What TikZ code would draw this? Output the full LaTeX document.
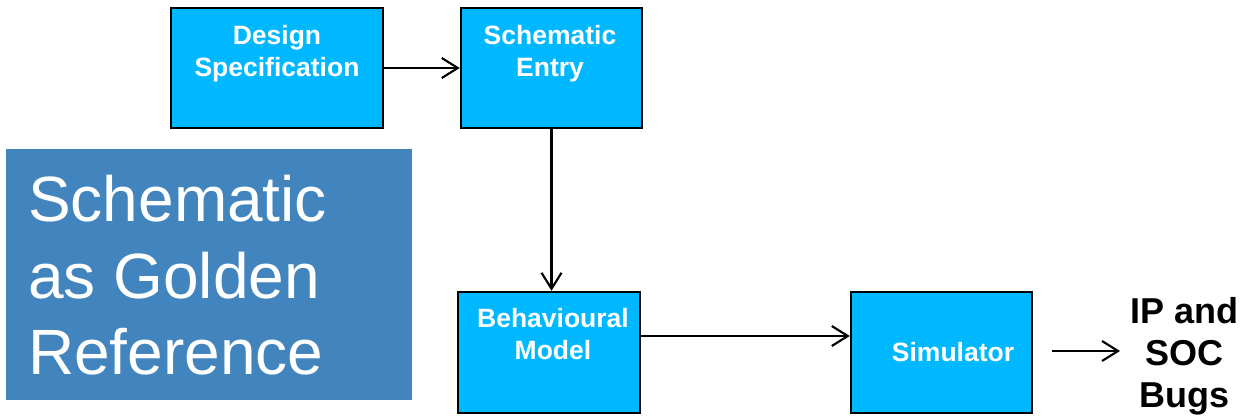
\documentclass[tikz,border=0pt]{standalone}
\usepackage{fontspec}
\setmainfont{Liberation Sans}
\usetikzlibrary{arrows.meta,calc}
\definecolor{boxfill}{RGB}{0,184,255}
\definecolor{panelblue}{RGB}{66,133,190}
\tikzset{
  box/.style={draw=black, line width=2.5pt, fill=boxfill, inner sep=0pt},
  boxtext/.style={text=white, font=\bfseries\fontsize{26.5}{32}\selectfont, align=center, inner sep=0pt},
  conn/.style={line width=2.1pt, -{Straight Barb[length=16pt,width=20pt,line width=2.1pt]}},
}
\begin{document}
\begin{tikzpicture}[x=1pt,y=-1pt]
\useasboundingbox (0,0) rectangle (1249,418);
% panel
\node[fill=panelblue, minimum width=406pt, minimum height=251pt, inner sep=0pt] (panel) at (209,274.5) {};
\node[anchor=north west, inner sep=0pt, text=white, align=left,
      font=\fontsize{64}{76.7}\selectfont] (paneltext) at (28,175) {Schematic\\as Golden\\Reference};
% boxes
\node[box, minimum width=212pt, minimum height=120pt] (ds) at (277,68) {};
\node[box, minimum width=181pt, minimum height=120pt] (se) at (551.5,68) {};
\node[box, minimum width=182pt, minimum height=121pt] (bm) at (549,352.5) {};
\node[box, minimum width=181pt, minimum height=121pt] (sim) at (941.5,352.5) {};
% box texts
\node[boxtext, anchor=north] (dst) at (277,25) {Design\\Specification};
\node[boxtext, anchor=north] (set) at (550,25) {Schematic\\Entry};
\node[boxtext, anchor=north] (bmt) at (553,308) {Behavioural\\Model};
\node[boxtext, anchor=north] (simt) at (953,342.5) {Simulator};
% output text
\node[anchor=north, inner sep=0pt, align=center,
      font=\bfseries\fontsize{36}{42}\selectfont] (bugs) at (1184,297) {IP and\\SOC\\Bugs};
% connectors
\draw[conn] (ds) -- (se);
\draw[conn] (se.south) -- (se.south |- bm.north);
\draw[conn] ($(bm.east)+(0,-16.5)$) -- ($(sim.west)+(0,-16.5)$);
\coordinate (outs) at (1052,351);
\coordinate (oute) at (1120,351);
\draw[conn] (outs) -- (oute);
\end{tikzpicture}
\end{document}
